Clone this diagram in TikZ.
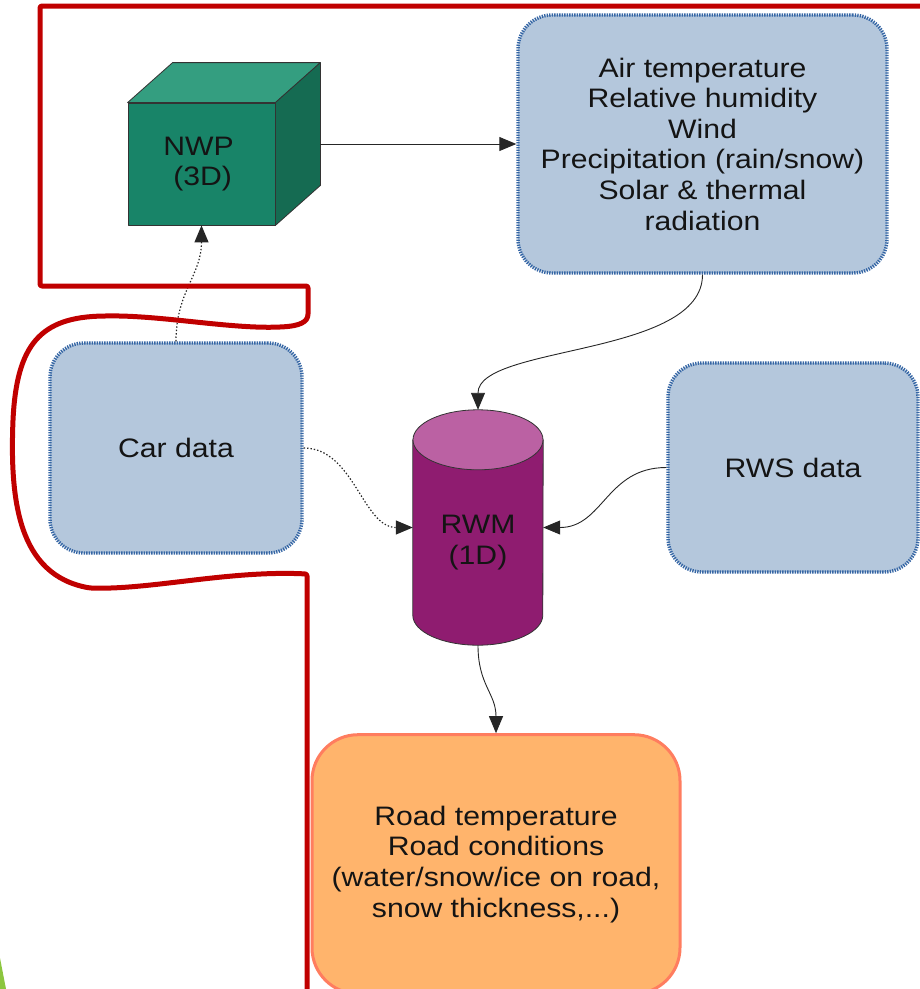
\documentclass[tikz,border=0pt]{standalone}
\usepackage{fontspec}
\setmainfont{Liberation Sans}[FakeStretch=1.13]
\usetikzlibrary{calc}
\usetikzlibrary{arrows.meta}
\usetikzlibrary{positioning}

\definecolor{boxfill}{RGB}{180,199,220}
\definecolor{boxblue}{RGB}{52,101,164}
\definecolor{nwpfront}{RGB}{24,132,104}
\definecolor{nwptop}{RGB}{52,158,128}
\definecolor{nwpside}{RGB}{21,107,82}
\definecolor{rwmbody}{RGB}{143,28,112}
\definecolor{rwmtop}{RGB}{187,97,163}
\definecolor{roadfill}{RGB}{255,180,108}
\definecolor{roadline}{RGB}{255,125,95}
\definecolor{framered}{RGB}{192,0,0}
\definecolor{slidegreen}{RGB}{140,198,63}
\definecolor{inktext}{RGB}{20,20,20}

\tikzset{
  boxtext/.style={font=\fontsize{26.7}{30.6}\selectfont, text=inktext, align=center},
  databox/.style={boxtext, rectangle, rounded corners=34pt, fill=boxfill, draw=boxblue, line width=3.4pt, dash pattern=on 1.3pt off 1.2pt},
  outbox/.style={boxtext, rectangle, rounded corners=46pt, fill=roadfill, draw=roadline, line width=3pt},
  cubeface/.style={boxtext, rectangle, fill=nwpfront, draw=black!80, line width=0.8pt, minimum width=147pt, minimum height=122pt},
  store/.style={rectangle, minimum width=130pt, minimum height=235pt, inner sep=0pt},
  arrow/.style={draw=black!85, line width=0.9pt, -{Triangle[length=17pt, width=14pt]}},
  dotline/.style={dash pattern=on 1.4pt off 2pt, line width=1.2pt},
  redline/.style={draw=framered, line width=5pt, rounded corners=2pt}
  }

\begin{document}
\begin{tikzpicture}[x=1pt, y=-1pt, line join=round]
	\useasboundingbox (0,0) rectangle (920,989);
	\clip (0,0) rectangle (920,989);

	% Nodes
	\node[cubeface] (nwp) at (201.5,164) {};
	\node[boxtext] (nwptext) at ($(nwp.center)+(-3,0)$) {NWP\\ ~(3D)};
	\node[databox, minimum width=369pt, minimum height=258pt] (air) at (702.5,144) {Air temperature\\ Relative humidity\\ Wind\\ Precipitation (rain/snow)\\ Solar \& thermal\\ radiation};
	\node[databox, minimum width=252pt, minimum height=210pt] (car) at (176,448) {Car data};
	\node[databox, minimum width=250pt, minimum height=209pt] (rws) at (793,467.5) {RWS data};
	\node[store] (rwm) at (478,527.5) {};
	\node[outbox, minimum width=368pt, minimum height=259pt, below=88pt of rwm, xshift=18pt] (road) {Road temperature\\ Road conditions\\ (water/snow/ice on road,\\ snow thickness,...)};

	% Cube faces
	\filldraw[fill=nwptop, draw=black!80, line width=0.8pt] (nwp.north west) -- ++(45,-40) -- ($(nwp.north east)+(45,-40)$) -- (nwp.north east) -- cycle;
	\filldraw[fill=nwpside, draw=black!80, line width=0.8pt] (nwp.north east) -- ++(45,-40) -- ($(nwp.south east)+(45,-40)$) -- (nwp.south east) -- cycle;
	\coordinate (nwpedge) at ($(nwp.east)+(45,-20)$);

	% Cylinder
	\filldraw[fill=rwmbody, draw=black!80, line width=0.8pt] ($(rwm.north west)+(0,30)$) -- ($(rwm.south west)+(0,-30)$) arc[start angle=180, end angle=360, x radius=65pt, y radius=30pt] -- ($(rwm.north east)+(0,30)$) -- cycle;
	\filldraw[fill=rwmtop, draw=black!80, line width=0.8pt] ($(rwm.north)+(0,30)$) ellipse[x radius=65pt, y radius=30pt];
	\node[boxtext] (rwmtext) at ($(rwm.center)+(0,15)$) {RWM\\ (1D)};

	% Arrows
	\draw[arrow] (nwpedge) -- (air.west);
	\draw[arrow, dotline] (car.north) .. controls +(0,-50) and +(0,50) .. (nwp.south);
	\draw[arrow] (air.south) .. controls +(0,82) and +(0,-65) .. (rwm.north);
	\draw[arrow, dotline] (car.east) .. controls +(50,0) and +(-50,0) .. (rwm.west);
	\draw[arrow] (rws.west) .. controls +(-60,0) and +(60,0) .. (rwm.east);
	\draw[arrow] (rwm.south) .. controls +(0,40) and +(0,-40) .. (road.north);

	% Frame
	\draw[redline] (920,6) -- (40,6) -- (40,286) -- (308,286) -- (308,312)
		.. controls (308,322) and (300,326) .. (280,327)
		.. controls (230,329) and (160,315) .. (105,316)
		.. controls (40,317) and (17,345) .. (13,420)
		.. controls (10,500) and (18,575) .. (90,588)
		.. controls (150,590) and (230,570) .. (307,574) -- (307,995);

	% Etc.
	\fill[slidegreen] (0,958) -- (6,989) -- (0,989) -- cycle;
\end{tikzpicture}
\end{document}
